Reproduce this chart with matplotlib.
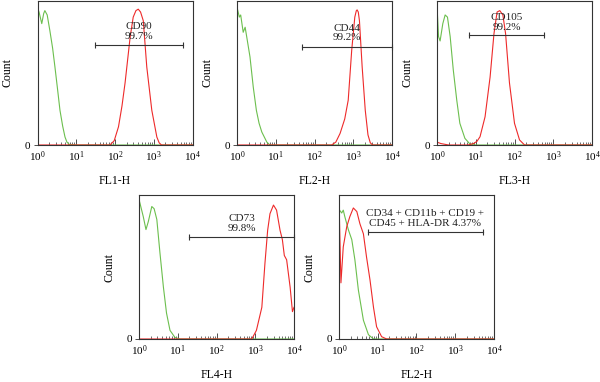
import numpy as np
import matplotlib
matplotlib.use("Agg")
import matplotlib.pyplot as plt
from matplotlib.ticker import NullFormatter, FixedLocator

plt.rcParams['font.family'] = ['Liberation Serif', 'DejaVu Serif']
plt.rcParams['mathtext.fontset'] = 'custom'
plt.rcParams['mathtext.rm'] = 'Liberation Serif'

# ---- data (x as log10 of fluorescence, y as fraction of max count) ----
# FL1-H / CD90
cd90_ctrl_logx = [0, 0.04, 0.11, 0.16, 0.19, 0.25, 0.32, 0.39, 0.45, 0.52, 0.58, 0.65, 0.71, 0.76, 0.82, 1.0, 4.0]
cd90_ctrl_y = [0.95, 0.92, 0.84, 0.91, 0.93, 0.90, 0.79, 0.67, 0.54, 0.38, 0.24, 0.13, 0.055, 0.02, 0.004, 0, 0]
cd90_logx = [0, 1.87, 1.98, 2.09, 2.18, 2.26, 2.39, 2.47, 2.54, 2.60, 2.66, 2.73, 2.82, 2.95, 3.08, 3.14, 3.2, 4.0]
cd90_y = [0, 0, 0.03, 0.126, 0.27, 0.43, 0.745, 0.885, 0.93, 0.94, 0.92, 0.86, 0.54, 0.24, 0.055, 0.015, 0, 0]

# FL2-H / CD44
cd44_ctrl_logx = [0, 0.06, 0.095, 0.16, 0.21, 0.25, 0.335, 0.42, 0.5, 0.57, 0.64, 0.77, 0.85, 4.0]
cd44_ctrl_y = [0.954, 0.885, 0.90, 0.78, 0.815, 0.75, 0.61, 0.40, 0.24, 0.15, 0.09, 0.02, 0, 0]
cd44_logx = [0, 2.44, 2.55, 2.66, 2.78, 2.87, 2.96, 3.04, 3.08, 3.10, 3.13, 3.16, 3.23, 3.31, 3.38, 3.44, 3.5, 4.0]
cd44_y = [0, 0, 0.02, 0.08, 0.18, 0.31, 0.655, 0.885, 0.93, 0.935, 0.92, 0.86, 0.54, 0.24, 0.07, 0.015, 0, 0]

# FL3-H / CD105
cd105_ctrl_logx = [0, 0.04, 0.08, 0.15, 0.21, 0.27, 0.34, 0.42, 0.51, 0.59, 0.72, 0.85, 0.98, 4.0]
cd105_ctrl_y = [0.965, 0.75, 0.72, 0.84, 0.90, 0.885, 0.75, 0.52, 0.31, 0.15, 0.046, 0.007, 0, 0]
cd105_logx = [0, 0.1, 0.3, 0.8, 0.94, 1.03, 1.11, 1.24, 1.37, 1.47, 1.55, 1.62, 1.70, 1.77, 1.87, 2.0, 2.13, 2.26, 4.0]
cd105_y = [0.02, 0.01, 0, 0, 0.01, 0.025, 0.057, 0.195, 0.47, 0.77, 0.92, 0.93, 0.90, 0.77, 0.43, 0.15, 0.035, 0, 0]

# FL4-H / CD73
cd73_ctrl_logx = [0, 0.11, 0.18, 0.24, 0.33, 0.39, 0.46, 0.54, 0.63, 0.71, 0.80, 0.93, 1.06, 4.0]
cd73_ctrl_y = [0.97, 0.85, 0.76, 0.815, 0.92, 0.905, 0.83, 0.60, 0.36, 0.18, 0.06, 0.01, 0, 0]
cd73_logx = [0, 2.91, 3.03, 3.17, 3.25, 3.32, 3.38, 3.47, 3.55, 3.64, 3.70, 3.75, 3.81, 3.90, 3.96, 4.0]
cd73_y = [0, 0, 0.06, 0.22, 0.525, 0.755, 0.87, 0.93, 0.895, 0.755, 0.69, 0.58, 0.55, 0.36, 0.19, 0.22]

# FL2-H / negative markers
neg_ctrl_logx = [0, 0.07, 0.11, 0.15, 0.24, 0.33, 0.41, 0.50, 0.63, 0.76, 0.89, 4.0]
neg_ctrl_y = [0.90, 0.875, 0.895, 0.85, 0.76, 0.69, 0.55, 0.34, 0.13, 0.03, 0, 0]
neg_logx = [0, 0.05, 0.11, 0.2, 0.28, 0.37, 0.46, 0.54, 0.63, 0.71, 0.80, 0.89, 0.97, 1.10, 1.23, 4.0]
neg_y = [0.97, 0.39, 0.64, 0.78, 0.85, 0.91, 0.885, 0.80, 0.73, 0.57, 0.41, 0.22, 0.085, 0.016, 0, 0]

channels = ['FL1-H', 'FL2-H', 'FL3-H', 'FL4-H', 'FL2-H']
gate_labels = ['CD90\n99.7%', 'CD44\n99.2%', 'CD105\n99.2%', 'CD73\n99.8%',
               'CD34 + CD11b + CD19 +\nCD45 + HLA-DR 4.37%']
gate_lo = [1.48, 1.67, 0.83, 1.30, 0.74]
gate_hi = [3.75, 4.0, 2.76, 4.0, 3.71]
gate_y = [0.69, 0.676, 0.76, 0.71, 0.74]
label_y = [0.785, 0.775, 0.85, 0.80, 0.835]

ctrl_x = [cd90_ctrl_logx, cd44_ctrl_logx, cd105_ctrl_logx, cd73_ctrl_logx, neg_ctrl_logx]
ctrl_y = [cd90_ctrl_y, cd44_ctrl_y, cd105_ctrl_y, cd73_ctrl_y, neg_ctrl_y]
stain_x = [cd90_logx, cd44_logx, cd105_logx, cd73_logx, neg_logx]
stain_y = [cd90_y, cd44_y, cd105_y, cd73_y, neg_y]

GREEN = '#6cbf4e'
RED = '#ee2a2a'
GRAY = '#333333'

fig = plt.figure(figsize=(6, 3.82), dpi=100)
W, H = 600.0, 382.0
# panel boxes in pixels: left, top, right, bottom
boxes = [(37.5, 0.5, 192.5, 145), (237, 0.5, 392, 145), (437, 0.5, 592, 145),
         (139, 195, 294, 339), (339, 195, 494, 339)]

minor_pos = [m * 10 ** k for k in range(4) for m in range(2, 10)]

for i, (l, t, r, b) in enumerate(boxes):
    ax = fig.add_axes([l / W, 1 - b / H, (r - l) / W, (b - t) / H])
    ax.plot(10 ** np.array(ctrl_x[i]), ctrl_y[i], color=GREEN, lw=0.8)
    ax.plot(10 ** np.array(stain_x[i]), stain_y[i], color=RED, lw=0.8)
    ax.set_xscale('log')
    ax.set_xlim(1, 1e4)
    ax.set_ylim(0, 1)

    # gate marker
    lo, hi = 10 ** gate_lo[i], 10 ** gate_hi[i]
    ax.plot([lo, hi], [gate_y[i], gate_y[i]], color=GRAY, lw=0.8,
            marker='|', markersize=5, markeredgewidth=0.8, clip_on=False)
    ax.text(10 ** ((gate_lo[i] + gate_hi[i]) / 2), label_y[i], gate_labels[i],
            ha='center', va='center', fontsize=8, linespacing=1.1, color='#222222')

    ax.xaxis.set_major_locator(FixedLocator([1, 10, 100, 1000, 10000]))
    ax.set_xticklabels([r'$\mathregular{10^{%d}}$' % k for k in range(5)])
    ax.xaxis.set_minor_locator(FixedLocator(minor_pos))
    ax.xaxis.set_minor_formatter(NullFormatter())
    ax.tick_params(axis='x', which='major', direction='in', length=4, width=0.6,
                   labelsize=8, pad=3, color=GRAY)
    ax.tick_params(axis='x', which='minor', direction='in', length=2.5, width=0.5, color=GRAY)
    ax.set_yticks([0])
    ax.set_yticklabels(['0'])
    ax.tick_params(axis='y', direction='out', length=3, width=0.6, labelsize=8, pad=2, color=GRAY)
    for s in ax.spines.values():
        s.set_color(GRAY)
        s.set_linewidth(0.8)
    ax.set_xlabel(channels[i], fontsize=8.5, labelpad=8)
    ax.set_ylabel('Count', fontsize=8.5, labelpad=8)

fig.savefig('out.png', dpi=100)
